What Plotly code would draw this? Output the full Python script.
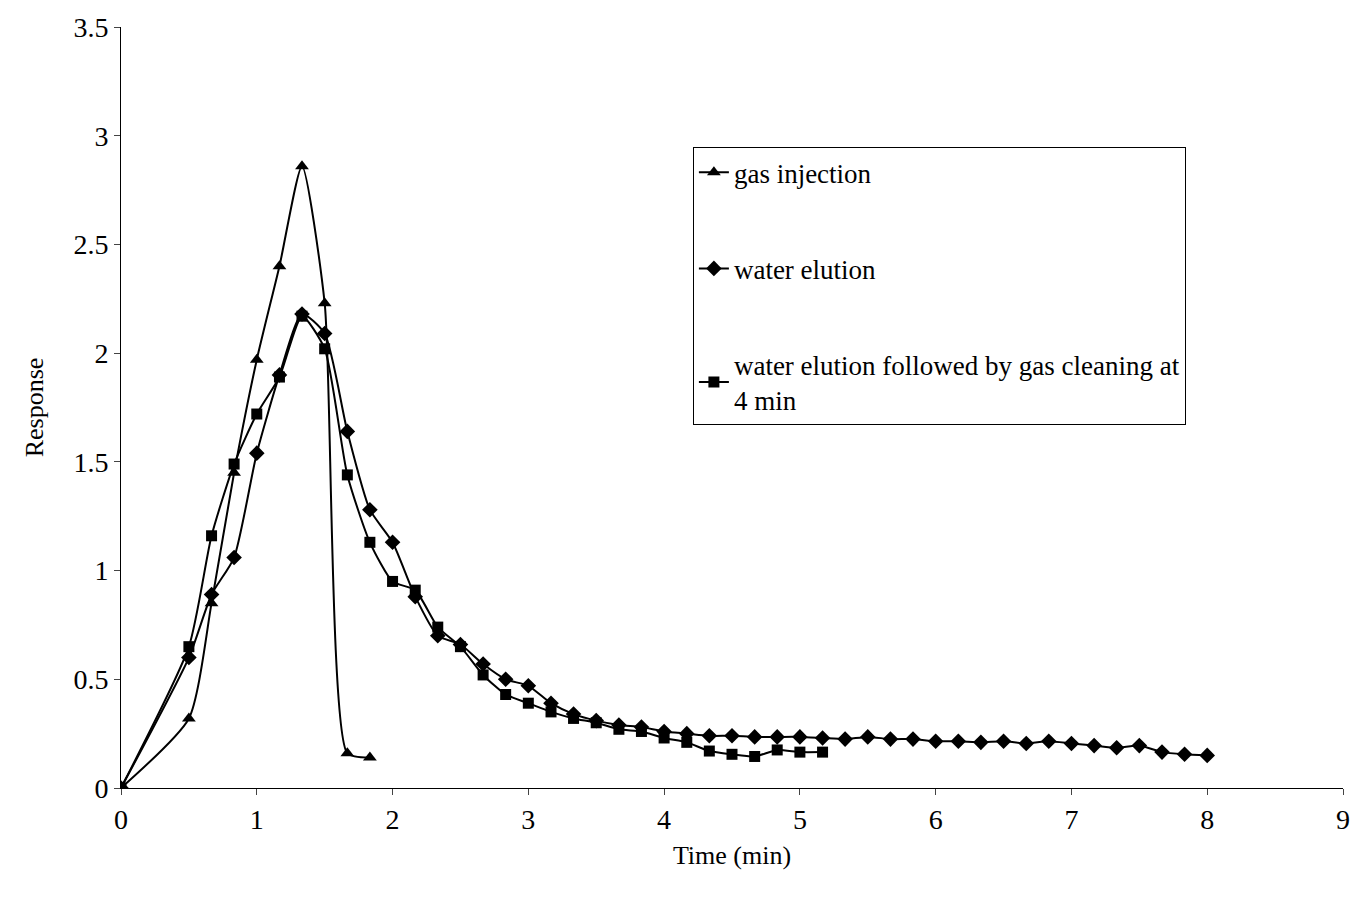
import plotly.graph_objects as go

t_gas = [0, 0.5, 0.667, 0.833, 1, 1.167, 1.333, 1.5, 1.667, 1.833]
y_gas = [0, 0.32, 0.85, 1.45, 1.97, 2.40, 2.86, 2.23, 0.16, 0.14]

t_water = [0, 0.5, 0.667, 0.833, 1, 1.167, 1.333, 1.5, 1.667, 1.833, 2, 2.167, 2.333, 2.5, 2.667, 2.833,
           3, 3.167, 3.333, 3.5, 3.667, 3.833, 4, 4.167, 4.333, 4.5, 4.667, 4.833, 5, 5.167, 5.333, 5.5,
           5.667, 5.833, 6, 6.167, 6.333, 6.5, 6.667, 6.833, 7, 7.167, 7.333, 7.5, 7.667, 7.833, 8]
y_water = [0, 0.6, 0.89, 1.06, 1.54, 1.90, 2.18, 2.09, 1.64, 1.28, 1.13, 0.88, 0.70, 0.66, 0.57, 0.50,
           0.47, 0.39, 0.34, 0.31, 0.29, 0.28, 0.26, 0.25, 0.24, 0.24, 0.235, 0.235, 0.235, 0.23, 0.225, 0.235,
           0.225, 0.225, 0.215, 0.215, 0.21, 0.215, 0.205, 0.215, 0.205, 0.195, 0.185, 0.195, 0.165, 0.155, 0.15]

t_clean = [0, 0.5, 0.667, 0.833, 1, 1.167, 1.333, 1.5, 1.667, 1.833, 2, 2.167, 2.333, 2.5, 2.667, 2.833,
           3, 3.167, 3.333, 3.5, 3.667, 3.833, 4, 4.167, 4.333, 4.5, 4.667, 4.833, 5, 5.167]
y_clean = [0, 0.65, 1.16, 1.49, 1.72, 1.89, 2.17, 2.02, 1.44, 1.13, 0.95, 0.91, 0.74, 0.65, 0.52, 0.43,
           0.39, 0.35, 0.32, 0.30, 0.27, 0.26, 0.23, 0.21, 0.17, 0.155, 0.145, 0.175, 0.165, 0.165]

fig = go.Figure()
common = dict(mode="lines+markers", line=dict(color="black", width=2, shape="spline", smoothing=0.6))
fig.add_trace(go.Scatter(x=t_gas, y=y_gas, name="gas injection", legendgroup="a",
                         marker=dict(symbol="triangle-up", size=12, color="black"), **common))
fig.add_trace(go.Scatter(x=t_water, y=y_water, name="water elution", legendgroup="b",
                         marker=dict(symbol="diamond", size=12, color="black"), **common))
fig.add_trace(go.Scatter(x=t_clean, y=y_clean, name="water elution followed by gas cleaning at<br>4 min",
                         legendgroup="c",
                         marker=dict(symbol="square", size=11, color="black"), **common))

fig.update_layout(
    width=1363, height=904, paper_bgcolor="white", plot_bgcolor="white",
    font=dict(family="Liberation Serif", size=26, color="black"),
    margin=dict(l=113, r=28, t=19, b=124, autoexpand=False),
    xaxis=dict(range=[0, 9], dtick=1, showgrid=False, zeroline=False, showline=True,
               linecolor="black", linewidth=1, ticks="outside", ticklen=6, tickfont=dict(size=28),
               title=dict(text="Time (min)", font=dict(size=26), standoff=12)),
    yaxis=dict(range=[0, 3.5], dtick=0.5, showgrid=False, zeroline=False, showline=True,
               linecolor="black", linewidth=1, ticks="outside", ticklen=6, tickfont=dict(size=28),
               title=dict(text="Response", font=dict(size=26), standoff=22)),
    legend=dict(x=0.468, y=0.842, xanchor="left", yanchor="top", bordercolor="black", borderwidth=1,
                bgcolor="white", font=dict(size=27), tracegroupgap=58),
)
fig.write_html("out.html")
